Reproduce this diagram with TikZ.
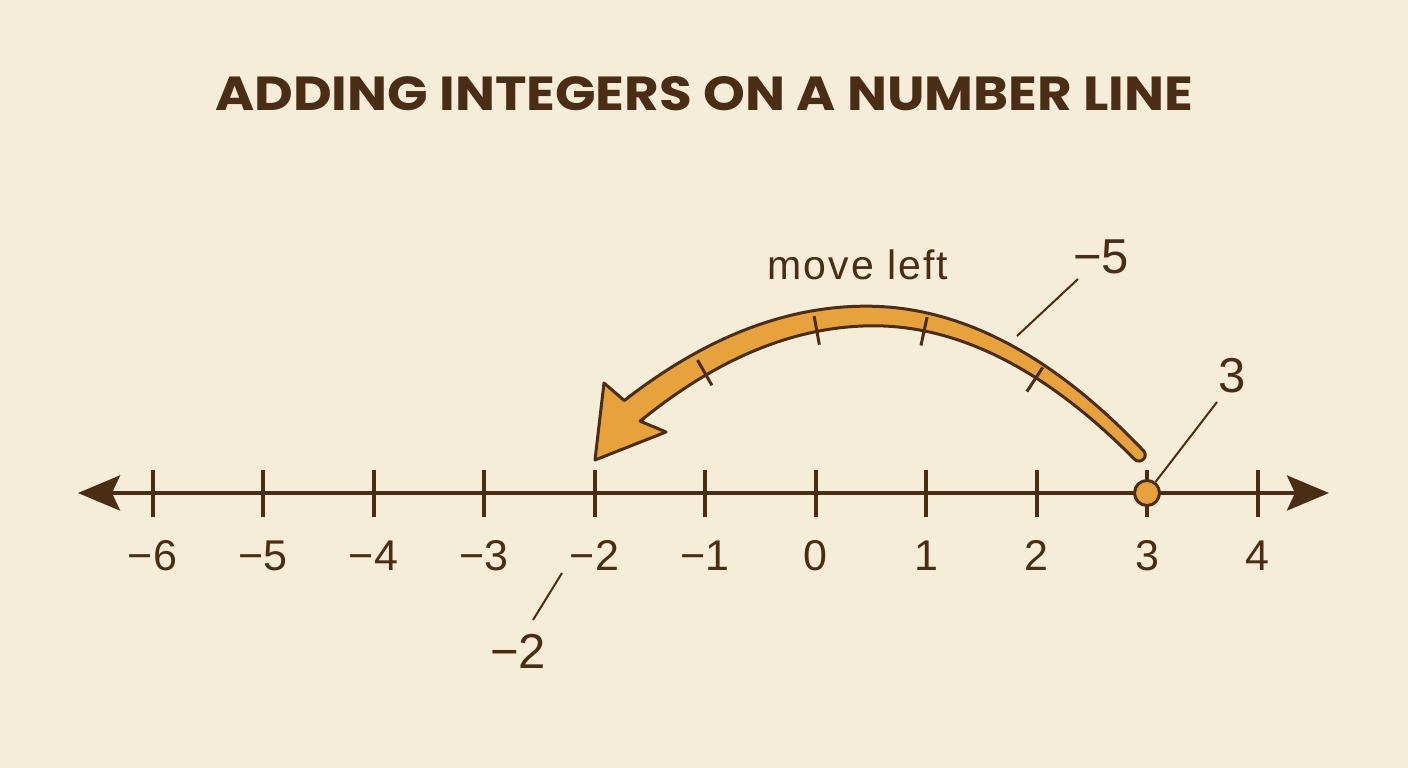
\documentclass[tikz,border=0pt]{standalone}
\usepackage{fontspec}
\setmainfont{Liberation Sans}
\newfontfamily\titlefont{Poppins}
\newfontfamily\spacedfont{Liberation Sans}[LetterSpace=5]
\usetikzlibrary{arrows.meta}
\definecolor{bg}{HTML}{F5EDD7}
\definecolor{ink}{HTML}{4A2D16}
\definecolor{amber}{HTML}{E7A23D}
\begin{document}
\begin{tikzpicture}[x=1pt,y=-1pt,
  declare function={
    Kf(\u)=(\u<0)*16.77+(\u>=0)*19.21;
    Fy(\u)=316+Kf(\u)*\u*\u;
    Dd(\u)=0.02*Kf(\u)*\u;
    Nn(\u)=sqrt(1+Dd(\u)*Dd(\u));
    uo(\t)=2.69-5.07*\t;
    Wo(\t)=6.2+6.8*\t;
    ui(\s)=-2.38+5.07*\s;
    Wi(\s)=13-6.8*\s;
  },
  numlab/.style={font=\fontsize{43}{48}\selectfont, text=ink, inner sep=0pt, anchor=base},
  calllab/.style={font=\fontsize{49}{56}\selectfont, text=ink, inner sep=0pt, anchor=base},
  movelab/.style={font=\spacedfont\fontsize{41}{46}\selectfont, text=ink, inner sep=0pt, anchor=base},
  leader/.style={draw=ink, line width=2pt},
  axisline/.style={draw=ink, line width=4pt, {Stealth[length=42pt, width=35pt, inset=8pt]}-{Stealth[length=42pt, width=35pt, inset=8pt]}},
  tickmark/.style={draw=ink, line width=4pt},
  jumptick/.style={draw=ink, line width=3pt},
  jump/.style={fill=amber, draw=ink, line width=3pt, line join=round},
  dot/.style={circle, fill=amber, draw=ink, line width=3pt, minimum size=25pt, inner sep=0pt},
]
% background / bounding box
\fill[bg] (0,0) rectangle (1408,768);
\useasboundingbox (0,0) rectangle (1408,768);

% title
\node[inner sep=0pt, anchor=base west, text=ink] (title) at (215,110)
  {\resizebox{978pt}{34pt}{\titlefont\bfseries ADDING INTEGERS ON A NUMBER LINE}};

% number line
\coordinate (L) at (78,493);
\coordinate (R) at (1329,493);
\draw[axisline] (L) -- (R);
\foreach \i in {-6,...,4} {
  \draw[tickmark] ({815.5+110.5*\i},470) -- ({815.5+110.5*\i},517);
}
\foreach \i/\t in {-6/−6,-5/−5,-4/−4,-3/−3,-2/−2,-1/−1,0/0,1/1,2/2,3/3,4/4} {
  \node[numlab] (n\i) at ({815.5+110.5*\i},570) {\t};
}

% curved jump arrow
\coordinate (tailout) at ({870+100*2.69+6.2*Dd(2.69)/Nn(2.69)},{Fy(2.69)-6.2/Nn(2.69)});
\coordinate (barbL) at (604,383);
\coordinate (tip) at (595,460);
\coordinate (barbR) at (666,432);
\filldraw[jump] (tailout)
  -- plot[variable=\t, domain=0:1, samples=80]
     ({870+100*uo(\t)+Wo(\t)*Dd(uo(\t))/Nn(uo(\t))},{Fy(uo(\t))-Wo(\t)/Nn(uo(\t))})
  -- (barbL) -- (tip) -- (barbR)
  -- plot[variable=\s, domain=0:1, samples=80]
     ({870+100*ui(\s)-Wi(\s)*Dd(ui(\s))/Nn(ui(\s))},{Fy(ui(\s))+Wi(\s)/Nn(ui(\s))})
  .. controls (1140.3,465.2) and (1149.1,456.5) .. (tailout) -- cycle;
\foreach \u in {-1.7,-0.55,0.56,1.7} {
  \draw[jumptick] ({870+100*\u+5*Dd(\u)/Nn(\u)},{Fy(\u)-5/Nn(\u)})
    -- ({870+100*\u-24*Dd(\u)/Nn(\u)},{Fy(\u)+24/Nn(\u)});
}

% start point
\node[dot] (p3) at (1147,493) {};

% labels and leaders
\node[movelab] (move) at (858,279) {move left};
\node[calllab] (lm5) at (1101,273) {−5};
\coordinate (lm5a) at (1078,279);
\coordinate (lm5b) at (1017,336);
\draw[leader] (lm5a) -- (lm5b);

\node[calllab] (l3) at (1232,392) {3};
\coordinate (l3a) at (1217,402);
\draw[leader] (l3a) -- (p3);

\node[calllab] (lm2) at (518,668) {−2};
\coordinate (lm2a) at (562,573);
\coordinate (lm2b) at (533,620);
\draw[leader] (lm2a) -- (lm2b);
\end{tikzpicture}
\end{document}
